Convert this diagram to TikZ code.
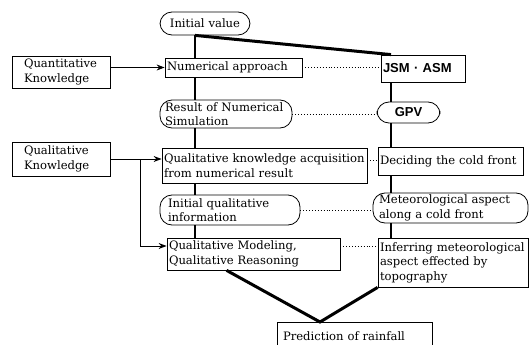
\documentclass[tikz,border=0pt]{standalone}
\usepackage{fontspec}
\setmainfont{DejaVu Serif}
\newfontfamily\gridfont{Liberation Sans}
\usetikzlibrary{arrows.meta,positioning}

\begin{document}
\begin{tikzpicture}[x=1pt,y=-1pt,
  box/.style={draw, rectangle, align=left, inner sep=2pt, line width=0.8pt,
    font=\fontsize{11.6}{14.5}\selectfont},
  pill/.style={box, rounded corners=12pt, inner xsep=5pt},
  model/.style={font=\gridfont\bfseries\fontsize{13}{15}\selectfont},
  flow/.style={line width=1.6pt},
  heavy/.style={line width=3pt},
  link/.style={dotted, line width=0.9pt},
  feed/.style={-{Stealth[length=8pt,width=6pt]}, line width=1pt}]
\useasboundingbox (0,0) rectangle (530,345);

% the two columns
\coordinate (lx) at (195,0);
\coordinate (rx) at (391,0);

\node[pill, align=center, text width=80pt, minimum height=23pt] (init) at (205,23.5) {Initial value};
\node[box, text width=74pt, minimum width=98pt, minimum height=32pt] (quant) at (61,72) {Quantitative\\Knowledge};
\node[box, text width=133pt, minimum height=19pt] (num) at (233.5,67.5) {Numerical approach};
\node[box, model, text width=80pt, minimum height=27pt] (jsm) at (423,68.5) {JSM · ASM};
\node[pill, text width=122pt, minimum height=28pt] (res) at (226,114) {Result of Numerical\\Simulation};
\node[pill, model, align=center, text width=53pt, minimum height=21pt] (gpv) at (408.5,112.5) {GPV};

\node[box, text width=74pt, minimum width=98pt, minimum height=34pt] (qual) at (61,159) {Qualitative\\Knowledge};
\node[box, text width=201pt, minimum height=35pt] (acq) at (264.5,165.5) {Qualitative knowledge acquisition\\from numerical result};
\node[box, text width=141pt, minimum height=28pt] (cold) at (450.5,161) {Deciding the cold front};
\node[pill, inner xsep=8pt, text width=124pt, minimum height=30pt] (iqi) at (230,210) {Initial qualitative\\information};
\node[pill, inner xsep=6pt, text width=143pt, minimum height=30pt] (met) at (450.5,208) {Meteorological aspect\\along a cold front};
\node[box, text width=169pt, minimum height=32pt] (qmod) at (253.5,254) {Qualitative Modeling,\\Qualitative Reasoning};
\node[box, text width=146pt, minimum height=49pt] (topo) at (453,262.5) {Inferring meteorological\\aspect effected by\\topography};
\node[box, inner xsep=6pt, text width=143pt, minimum height=28pt] (rain) at (354.5,336) {Prediction of rainfall};

\coordinate (meet) at (320,322);

% main flow
\draw[flow] (init.south -| lx) -- (num.north -| lx)
  (num.south -| lx) -- (res.north -| lx)
  (res.south -| lx) -- (acq.north -| lx)
  (acq.south -| lx) -- (iqi.north -| lx)
  (iqi.south -| lx) -- (qmod.north -| lx);
\draw[flow] (jsm.south -| rx) -- (gpv.north -| rx)
  (gpv.south -| rx) -- (cold.north -| rx)
  (cold.south -| rx) -- (met.north -| rx)
  (met.south -| rx) -- (topo.north -| rx);
\draw[heavy] (init.south -| lx) -- (jsm.north -| rx);
\draw[heavy] ([xshift=60pt]qmod.south west) -- (meet) -- (topo.south west);

% correspondences
\draw[link] (num.east) -- (num.east -| jsm.west);
\draw[link] (res.east) -- (res.east -| gpv.west);
\draw[link] ([yshift=5pt]acq.east) -- ([yshift=5pt]acq.east -| cold.west);
\draw[link] (iqi.east) -- (iqi.east -| met.west);
\draw[link] ([yshift=8pt]qmod.east) -- ([yshift=8pt]qmod.east -| topo.west);

% knowledge
\draw[feed] (quant.east |- num.west) -- (num.west);
\draw[feed] (qual.east) -- (qual.east -| acq.west);
\draw[feed] (qual.east) -| (140,246) -- ([yshift=8pt]qmod.west);
\end{tikzpicture}
\end{document}
